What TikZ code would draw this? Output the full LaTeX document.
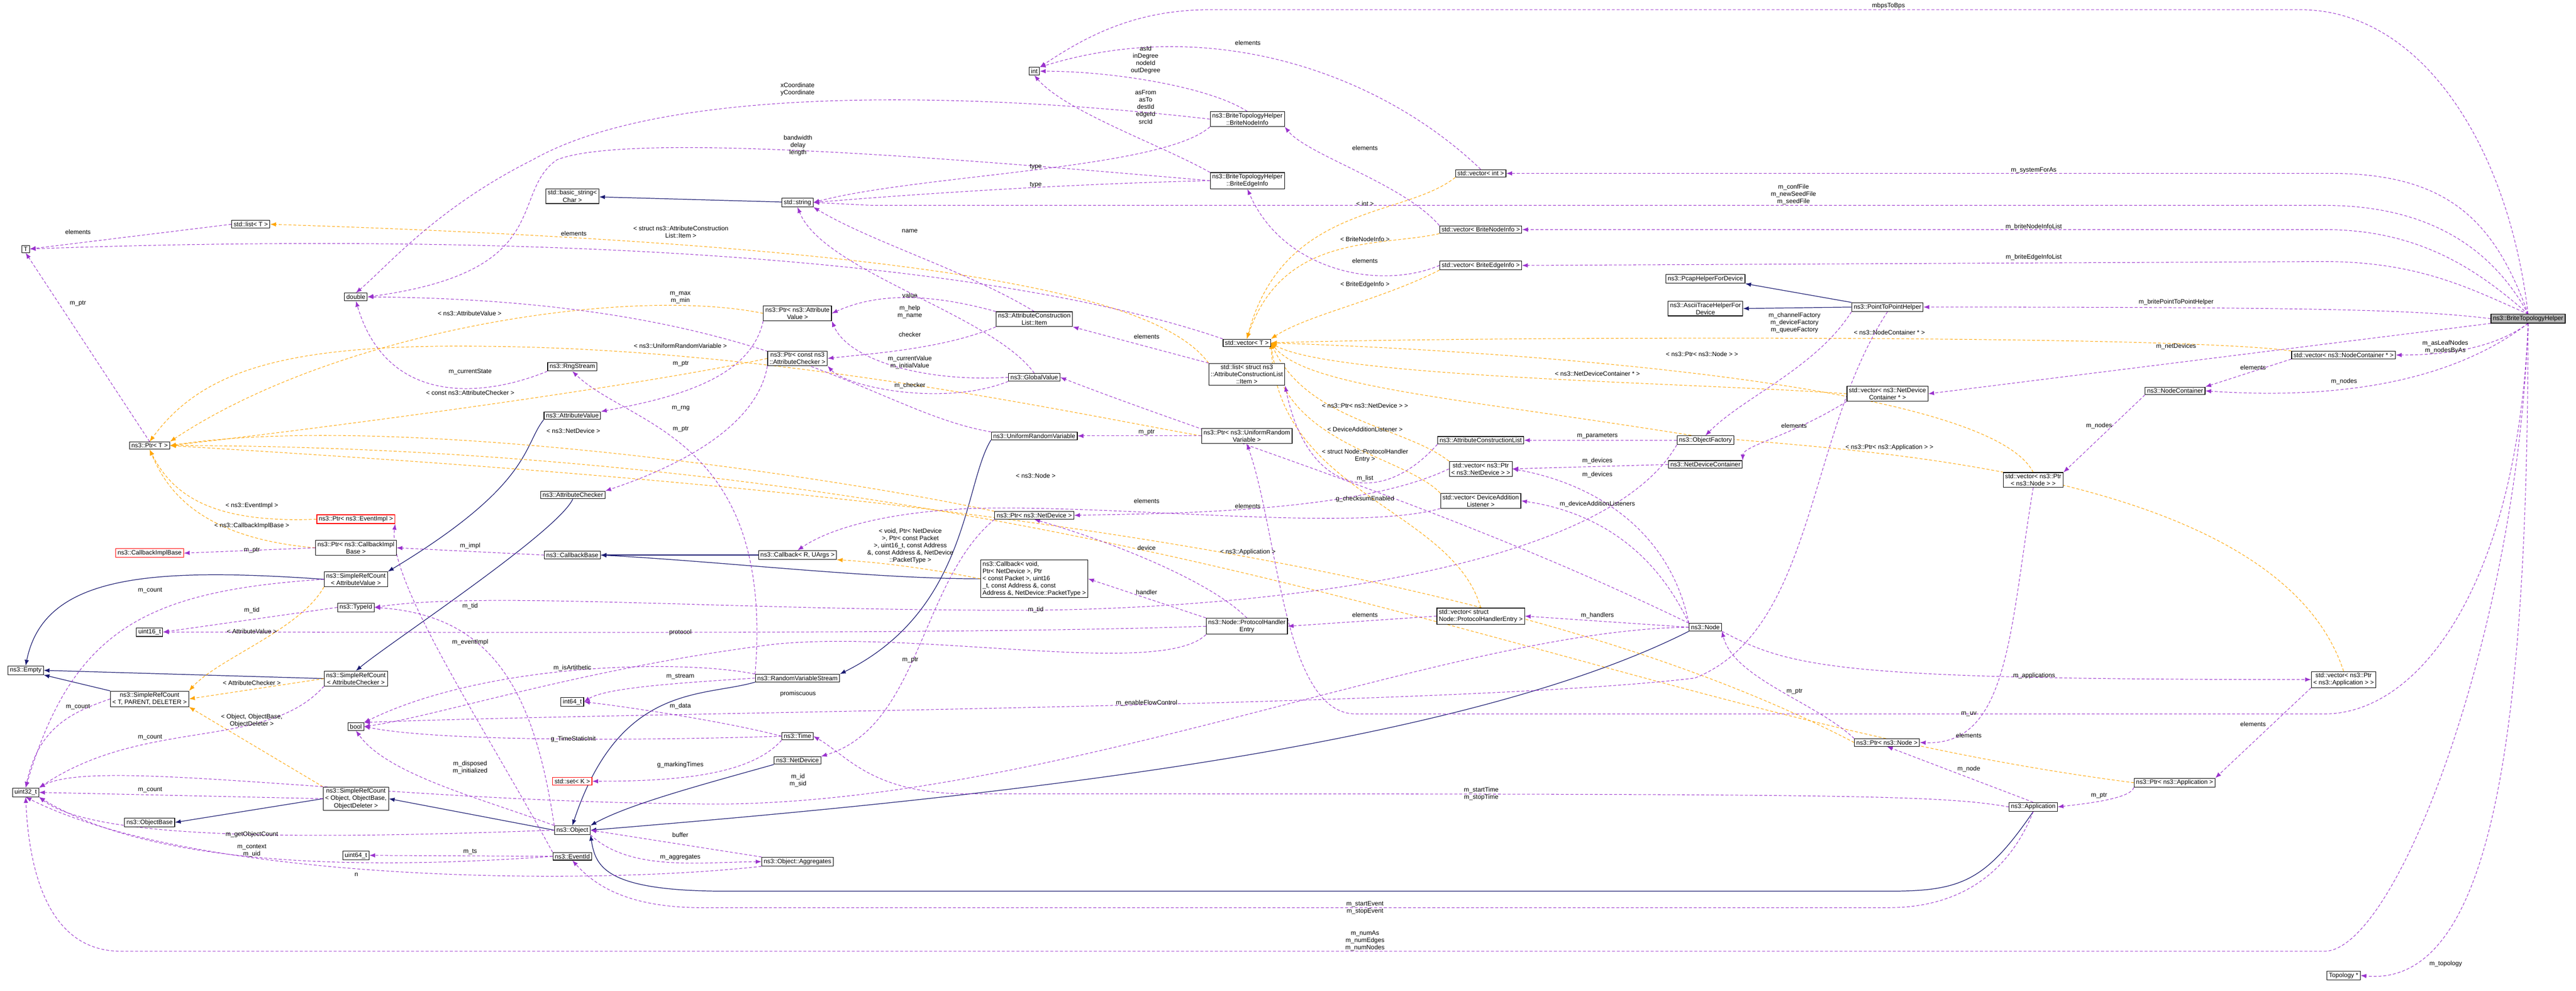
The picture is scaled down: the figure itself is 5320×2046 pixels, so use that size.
\documentclass[tikz,border=0pt]{standalone}
\usepackage{fontspec}
\setmainfont{Liberation Sans}
\usetikzlibrary{arrows.meta}
\pgfdeclarelayer{bg}
\pgfdeclarelayer{edges}
\pgfsetlayers{bg,edges,main}
\definecolor{usec}{HTML}{9A32CD}
\definecolor{tmplc}{HTML}{FFA500}
\definecolor{inhc}{HTML}{191970}
\tikzset{
 cls/.style={draw=black,line width=1.2pt,fill=white,inner xsep=4pt,inner ysep=3pt,align=center,font=\fontsize{13}{15}\selectfont},
 redcls/.style={cls,draw=red},
 graycls/.style={cls,fill=gray!60},
 lbl/.style={inner sep=1pt,align=center,font=\fontsize{13}{15}\selectfont},
 use/.style={draw=usec,line width=1.1pt,dash pattern=on 6pt off 4pt,-{Latex[length=12pt,width=9pt]}},
 tmpl/.style={draw=tmplc,line width=1.1pt,dash pattern=on 6pt off 4pt,-{Latex[length=12pt,width=9pt]}},
 inh/.style={draw=inhc,line width=1.3pt,-{Latex[length=12pt,width=9pt]}}
}
\begin{document}
\begin{tikzpicture}[x=1pt,y=-1pt]
\begin{pgfonlayer}{bg}
\fill[white] (0,0) rectangle (5320,2046);
\end{pgfonlayer}
\useasboundingbox (0,0) rectangle (5320,2046);
% ---------- nodes
\node[cls] (T) at (53,514) {T};
\node[cls] (listT) at (518,463) {std::list< T >};
\node[cls] (dbl) at (735,613) {double};
\node[cls] (bstr) at (1182,405) {std::basic\_string<\\Char >};
\node[cls] (str) at (1647,418) {std::string};
\node[cls] (ptrT) at (309,920) {ns3::Ptr< T >};
\node[cls] (ptrAV) at (1647,647) {ns3::Ptr< ns3::Attribute\\Value >};
\node[cls] (ptrAC) at (1647,740) {ns3::Ptr< const ns3\\::AttributeChecker >};
\node[cls] (rng) at (1182,757) {ns3::RngStream};
\node[cls] (av) at (1182,858) {ns3::AttributeValue};
\node[cls] (ac) at (1183,1022) {ns3::AttributeChecker};
\node[redcls] (ptrEI) at (735,1072) {ns3::Ptr< ns3::EventImpl >};
\node[cls] (ptrCIB) at (735,1131) {ns3::Ptr< ns3::CallbackImpl\\Base >};
\node[redcls] (cib) at (309,1142) {ns3::CallbackImplBase};
\node[cls] (cbb) at (1182,1146) {ns3::CallbackBase};
\node[cls] (cbR) at (1647,1146) {ns3::Callback< R, UArgs >};
\node[cls] (srcAV) at (735,1196) {ns3::SimpleRefCount\\< AttributeValue >};
\node[cls] (tid) at (735,1254) {ns3::TypeId};
\node[cls] (u16) at (309,1305) {uint16\_t};
\node[cls] (empty) at (53,1384) {ns3::Empty};
\node[cls] (srcAC) at (735,1401) {ns3::SimpleRefCount\\< AttributeChecker >};
\node[cls] (srcT) at (309,1443) {ns3::SimpleRefCount\\< T, PARENT, DELETER >};
\node[cls] (rvs) at (1647,1400) {ns3::RandomVariableStream};
\node[cls] (i64) at (1182,1449) {int64\_t};
\node[cls] (bool) at (735,1500) {bool};
\node[cls] (time) at (1647,1520) {ns3::Time};
\node[cls] (nd) at (1647,1570) {ns3::NetDevice};
\node[redcls] (setK) at (1182,1613) {std::set< K >};
\node[cls] (u32) at (53,1636) {uint32\_t};
\node[cls] (srcO) at (735,1649) {ns3::SimpleRefCount\\< Object, ObjectBase,\\ObjectDeleter >};
\node[cls] (objb) at (309,1698) {ns3::ObjectBase};
\node[cls] (obj) at (1182,1714) {ns3::Object};
\node[cls] (eid) at (1182,1768) {ns3::EventId};
\node[cls] (u64) at (735,1766) {uint64\_t};
\node[cls] (aggr) at (1647,1779) {ns3::Object::Aggregates};
\node[cls] (int) at (2136,147) {int};
\node[cls] (bni) at (2576,246) {ns3::BriteTopologyHelper\\::BriteNodeInfo};
\node[cls] (bei) at (2576,373) {ns3::BriteTopologyHelper\\::BriteEdgeInfo};
\node[cls] (vint) at (3058,358) {std::vector< int >};
\node[cls] (vbni) at (3058,474) {std::vector< BriteNodeInfo >};
\node[cls] (vbei) at (3058,548) {std::vector< BriteEdgeInfo >};
\node[cls] (pcap) at (3522,576) {ns3::PcapHelperForDevice};
\node[cls] (ascii) at (3522,637) {ns3::AsciiTraceHelperFor\\Device};
\node[cls] (item) at (2136,659) {ns3::AttributeConstruction\\List::Item};
\node[cls] (vecT) at (2575,708) {std::vector< T >};
\node[cls] (listItem) at (2575,773) {std::list< struct ns3\\::AttributeConstructionList\\::Item >};
\node[cls] (gv) at (2136,779) {ns3::GlobalValue};
\node[cls] (urv) at (2136,900) {ns3::UniformRandomVariable};
\node[cls] (ptrURV) at (2575,900) {ns3::Ptr< ns3::UniformRandom\\Variable >};
\node[cls] (acl) at (3058,909) {ns3::AttributeConstructionList};
\node[cls] (of) at (3522,909) {ns3::ObjectFactory};
\node[cls] (vpnd) at (3058,968) {std::vector< ns3::Ptr\\< ns3::NetDevice > >};
\node[cls] (ndc) at (3522,959) {ns3::NetDeviceContainer};
\node[cls] (ptrND) at (2136,1064) {ns3::Ptr< ns3::NetDevice >};
\node[cls] (vdal) at (3058,1034) {std::vector< DeviceAddition\\Listener >};
\node[cls,align=left] (cbV) at (2136,1195) {ns3::Callback< void,\\ Ptr< NetDevice >, Ptr\\< const Packet >, uint16\\\_t, const Address \&, const\\ Address \&, NetDevice::PacketType >};
\node[cls] (phe) at (2575,1293) {ns3::Node::ProtocolHandler\\Entry};
\node[cls,align=left] (vphe) at (3058,1272) {std::vector< struct\\ Node::ProtocolHandlerEntry >};
\node[cls] (node) at (3522,1295) {ns3::Node};
\node[cls] (p2p) at (3898,634) {ns3::PointToPointHelper};
\node[graycls] (bth) at (5221,658) {ns3::BriteTopologyHelper};
\node[cls] (vncp) at (4840,733) {std::vector< ns3::NodeContainer * >};
\node[cls] (nc) at (4492,807) {ns3::NodeContainer};
\node[cls] (vndc) at (3898,813) {std::vector< ns3::NetDevice\\Container * >};
\node[cls] (vpn) at (4199,991) {std::vector< ns3::Ptr\\< ns3::Node > >};
\node[cls] (vpa) at (4840,1403) {std::vector< ns3::Ptr\\< ns3::Application > >};
\node[cls] (ptrN) at (3897,1533) {ns3::Ptr< ns3::Node >};
\node[cls] (ptrA) at (4491,1616) {ns3::Ptr< ns3::Application >};
\node[cls] (app) at (4199,1666) {ns3::Application};
\node[cls] (topo) at (4840,2014) {Topology *};
\begin{pgfonlayer}{edges}
% ---------- inheritance
\draw[inh] (str) -- (bstr);
\draw[inh] (srcAV.west) .. controls (300,1170) and (90,1190) .. (empty.north);
\draw[inh] (srcAC.west) -- (empty.east);
\draw[inh] (srcT.north west) -- (empty.south east);
\draw[inh] (av.south west) .. controls (1080,920) and (1100,1000) .. (srcAV.north east);
\draw[inh] (ac.south) .. controls (1150,1100) and (800,1330) .. (srcAC.north);
\draw[inh] (cbR.west) -- (cbb.east);
\draw[inh] (cbV.west) .. controls (1800,1195) and (1500,1160) .. (cbb.east);
\draw[inh] (srcO.west) -- (objb.east);
\draw[inh] (obj.west) -- (srcO.east);
\draw[inh] (rvs.south west) .. controls (1450,1440) and (1280,1410) .. (obj.north);
\draw[inh] (urv.south west) .. controls (1990,1000) and (2000,1260) .. (rvs.north east);
\draw[inh] (nd.south west) .. controls (1450,1620) and (1300,1660) .. (obj.north east);
\draw[inh] (node.south west) .. controls (3000,1550) and (2000,1650) .. (obj.east);
\draw[inh] (app.south) .. controls (4100,1820) and (4050,1840) .. (3900,1840) -- (1500,1840) .. controls (1250,1840) and (1230,1790) .. (obj.south east);
\draw[inh] (p2p.north west) -- (pcap.south east);
\draw[inh] (p2p.west) -- (ascii.east);
% ---------- template instances
\draw[tmpl] (listItem.north west) .. controls (2400,620) and (2000,510) .. (listT.east);
\draw[tmpl] (ptrAV.west) .. controls (1300,590) and (700,680) .. (ptrT.north east);
\draw[tmpl] (ptrURV.west) .. controls (2200,850) and (1600,720) .. (1000,715) .. controls (600,710) and (420,760) .. (ptrT.north);
\draw[tmpl] (ptrAC.west) .. controls (1300,800) and (700,880) .. (ptrT.east);
\draw[tmpl] (ptrND.north west) .. controls (1700,980) and (800,850) .. (ptrT.east);
\draw[tmpl] (ptrN.west) .. controls (3000,1100) and (1500,990) .. (ptrT.east);
\draw[tmpl] (ptrEI.west) .. controls (450,1080) and (360,1030) .. (ptrT.south);
\draw[tmpl] (ptrCIB.west) .. controls (400,1110) and (340,1000) .. (ptrT.south);
\draw[tmpl] (ptrA.west) .. controls (3500,1500) and (2800,1150) .. (1500,990) .. controls (1000,930) and (600,920) .. (ptrT.east);
\draw[tmpl] (srcAV.south west) .. controls (620,1300) and (450,1360) .. (srcT.north east);
\draw[tmpl] (srcAC.west) -- (srcT.east);
\draw[tmpl] (srcO.north west) -- (srcT.south east);
\draw[tmpl] (cbV.west) .. controls (1900,1170) and (1800,1160) .. (cbR.south east);
\draw[tmpl] (vint.south west) .. controls (2900,450) and (2650,420) .. (vecT.north);
\draw[tmpl] (vbni.south west) .. controls (2850,510) and (2650,480) .. (vecT.north);
\draw[tmpl] (vbei.south west) .. controls (2850,620) and (2700,650) .. (vecT.north east);
\draw[tmpl] (vpn.north) .. controls (4100,780) and (3000,720) .. (vecT.east);
\draw[tmpl] (vndc.west) .. controls (3500,790) and (2750,780) .. (vecT.east);
\draw[tmpl] (vpnd.north west) .. controls (2900,880) and (2700,870) .. (vecT.east);
\draw[tmpl] (vdal.north west) .. controls (2900,940) and (2650,920) .. (vecT.east);
\draw[tmpl] (vphe.north) .. controls (3000,1050) and (2640,1020) .. (vecT.east);
\draw[tmpl] (vpa.north) .. controls (4700,960) and (3800,930) .. (3500,900) .. controls (3000,820) and (2700,800) .. (vecT.east);
\draw[tmpl] (vncp.north west) .. controls (4500,690) and (3000,695) .. (vecT.east);
% ---------- usage
\draw[use] (listT.west) -- (T.east);
\draw[use] (vecT.north west) .. controls (2000,520) and (1000,480) .. (T.east);
\draw[use] (ptrT.north) -- (T.south);
\draw[use] (bni.west) .. controls (2100,200) and (1400,160) .. (1100,330) .. controls (900,430) and (800,550) .. (dbl.north);
\draw[use] (bei.west) .. controls (2000,330) and (1300,270) .. (1150,330) .. controls (1050,400) and (1150,560) .. (dbl.east);
\draw[use] (bni.north) .. controls (2500,180) and (2300,147) .. (int.east);
\draw[use] (bei.north west) .. controls (2400,300) and (2200,230) .. (int.south);
\draw[use] (vint.north) .. controls (2850,150) and (2500,30) .. (int.north east);
\draw[use] (bni.south west) .. controls (2400,350) and (1900,360) .. (str.east);
\draw[use] (bei.west) .. controls (2200,380) and (1900,400) .. (str.east);
\draw[use] (vbni.north west) .. controls (2900,380) and (2700,320) .. (bni.south east);
\draw[use] (vbei.west) .. controls (2850,600) and (2650,560) .. (bei.south);
\draw[use] (bth.north) .. controls (5180,300) and (5000,20) .. (4750,20) -- (2500,20) .. controls (2350,20) and (2250,70) .. (int.north east);
\draw[use] (bth.north) .. controls (5150,450) and (5050,355) .. (4800,358) -- (vint.east);
\draw[use] (bth.north) .. controls (5140,500) and (5000,424) .. (4800,424) -- (1800,424) -- (str.east);
\draw[use] (bth.north) .. controls (5120,560) and (5000,474) .. (4800,474) -- (vbni.east);
\draw[use] (bth.north) .. controls (5110,600) and (5000,540) .. (4800,540) -- (vbei.east);
\draw[use] (bth.west) .. controls (5000,640) and (4800,634) .. (p2p.east);
\draw[use] (bth.south west) -- (vndc.east);
\draw[use] (bth.south) .. controls (5150,720) and (5050,733) .. (vncp.east);
\draw[use] (bth.south) .. controls (5100,760) and (4900,830) .. (nc.east);
\draw[use] (bth.south) .. controls (5200,1200) and (5000,1474) .. (4800,1474) -- (2800,1474) .. controls (2650,1474) and (2640,1100) .. (ptrURV.south);
\draw[use] (bth.south) .. controls (5200,1300) and (4950,1964) .. (4800,1964) -- (250,1964) .. controls (100,1964) and (60,1800) .. (u32.south);
\draw[use] (bth.south) .. controls (5220,1500) and (5150,2040) .. (topo.east);
\draw[use] (vncp.south west) -- (nc.north east);
\draw[use] (nc.south west) -- (vpn.north east);
\draw[use] (vpn.south) .. controls (4150,1300) and (4150,1540) .. (ptrN.east);
\draw[use] (ptrN.north west) .. controls (3750,1450) and (3580,1400) .. (node.south east);
\draw[use] (app.north) -- (ptrN.south);
\draw[use] (ptrA.south west) .. controls (4400,1650) and (4300,1660) .. (app.east);
\draw[use] (vpa.south west) -- (ptrA.north east);
\draw[use] (node.south east) .. controls (3700,1380) and (3800,1403) .. (vpa.west);
\draw[use] (app.west) .. controls (4000,1640) and (3800,1639) .. (2000,1639) .. controls (1800,1639) and (1750,1560) .. (time.east);
\draw[use] (app.south) .. controls (4150,1800) and (4050,1874) .. (3900,1874) -- (1450,1874) .. controls (1300,1874) and (1230,1830) .. (eid.south);
\draw[use] (p2p.south west) .. controls (3750,760) and (3600,820) .. (of.north);
\draw[use] (p2p.south) .. controls (3730,900) and (3750,1300) .. (3500,1400) .. controls (3000,1460) and (1300,1470) .. (bool.north east);
\draw[use] (vndc.south west) .. controls (3700,900) and (3600,920) .. (ndc.north east);
\draw[use] (ndc.west) -- (vpnd.east);
\draw[use] (node.north west) .. controls (3450,1100) and (3300,1000) .. (vpnd.east);
\draw[use] (vpnd.west) .. controls (2800,1060) and (2400,1060) .. (ptrND.east);
\draw[use] (ptrND.south west) .. controls (1900,1200) and (1900,1500) .. (nd.north east);
\draw[use] (of.west) -- (acl.east);
\draw[use] (of.south west) .. controls (3300,1200) and (2500,1260) .. (2100,1260) .. controls (1500,1260) and (1000,1220) .. (tid.east);
\draw[use] (acl.south west) .. controls (2850,1050) and (2700,1020) .. (listItem.south east);
\draw[use] (listItem.north west) -- (item.south east);
\draw[use] (item.north) .. controls (2000,560) and (1800,500) .. (str.south east);
\draw[use] (item.north west) .. controls (1900,600) and (1800,610) .. (ptrAV.east);
\draw[use] (item.south west) .. controls (1950,720) and (1800,730) .. (ptrAC.east);
\draw[use] (gv.north) .. controls (2050,650) and (1700,560) .. (str.south);
\draw[use] (gv.west) .. controls (1900,790) and (1750,740) .. (ptrAV.south east);
\draw[use] (gv.south west) .. controls (1950,840) and (1750,800) .. (ptrAC.south east);
\draw[use] (node.north west) .. controls (3000,1050) and (2500,900) .. (gv.east);
\draw[use] (node.north west) .. controls (3400,1100) and (3250,1050) .. (vdal.east);
\draw[use] (node.west) -- (vphe.east);
\draw[use] (vphe.west) -- (phe.east);
\draw[use] (phe.north west) -- (cbV.east);
\draw[use] (phe.north) .. controls (2500,1200) and (2300,1120) .. (ptrND.south);
\draw[use] (phe.west) .. controls (2000,1310) and (1000,1305) .. (u16.east);
\draw[use] (phe.south west) .. controls (2400,1400) and (1900,1300) .. (1600,1330) .. controls (1200,1380) and (900,1480) .. (bool.east);
\draw[use] (vdal.south west) .. controls (2800,1100) and (2300,1040) .. (2000,1050) .. controls (1800,1060) and (1700,1100) .. (cbR.north);
\draw[use] (node.west) .. controls (3000,1300) and (2200,1650) .. (1500,1660) .. controls (800,1660) and (200,1560) .. (u32.north east);
\draw[use] (ptrAV.south west) .. controls (1550,780) and (1400,820) .. (av.north east);
\draw[use] (ptrAC.south west) .. controls (1560,900) and (1350,980) .. (ac.north east);
\draw[use] (urv.north west) .. controls (1800,850) and (1600,620) .. (dbl.east);
\draw[use] (ptrURV.west) -- (urv.east);
\draw[use] (rvs.north west) .. controls (1600,900) and (1300,880) .. (rng.south);
\draw[use] (rng.south west) .. controls (1000,820) and (800,840) .. (dbl.south);
\draw[use] (rvs.north west) .. controls (1400,1360) and (1000,1370) .. (bool.north east);
\draw[use] (rvs.west) .. controls (1400,1410) and (1250,1420) .. (i64.east);
\draw[use] (time.west) .. controls (1500,1490) and (1300,1460) .. (i64.east);
\draw[use] (time.west) .. controls (1300,1530) and (900,1530) .. (bool.east);
\draw[use] (time.south west) .. controls (1550,1600) and (1400,1613) .. (setK.east);
\draw[use] (ptrCIB.west) -- (cib.east);
\draw[use] (cbb.west) -- (ptrCIB.east);
\draw[use] (eid.north west) .. controls (1000,1500) and (800,1200) .. (ptrEI.south east);
\draw[use] (eid.west) -- (u64.east);
\draw[use] (eid.west) .. controls (700,1800) and (300,1780) .. (u32.south east);
\draw[use] (obj.north west) .. controls (1100,1400) and (1000,1270) .. (tid.east);
\draw[use] (obj.north west) .. controls (1000,1650) and (800,1600) .. (bool.south);
\draw[use] (obj.west) .. controls (700,1730) and (200,1740) .. (u32.south east);
\draw[use] (obj.south east) .. controls (1300,1800) and (1450,1780) .. (aggr.west);
\draw[use] (aggr.north west) -- (obj.east);
\draw[use] (aggr.south west) .. controls (1200,1830) and (400,1820) .. (u32.south);
\draw[use] (tid.west) -- (u16.east);
\draw[use] (srcAV.west) .. controls (300,1220) and (150,1300) .. (u32.north);
\draw[use] (srcT.west) .. controls (150,1470) and (80,1500) .. (u32.north);
\draw[use] (srcAC.south west) .. controls (550,1550) and (300,1480) .. (u32.north east);
\draw[use] (srcO.west) -- (u32.east);
\end{pgfonlayer}
% ---------- labels
\node[lbl] (l1) at (161,479) {elements};
\node[lbl] (l2) at (1185,482) {elements};
\node[lbl] (l3) at (1406,479) {< struct ns3::AttributeConstruction\\List::Item >};
\node[lbl] (l4) at (161,627) {m\_ptr};
\node[lbl] (l5) at (1647,184) {xCoordinate\\yCoordinate};
\node[lbl] (l6) at (1648,300) {bandwidth\\delay\\length};
\node[lbl] (l7) at (1405,614) {m\_max\\m\_min};
\node[lbl] (l8) at (970,647) {< ns3::AttributeValue >};
\node[lbl] (l9) at (1405,714) {< ns3::UniformRandomVariable >};
\node[lbl] (l10) at (1406,751) {m\_ptr};
\node[lbl] (l11) at (971,768) {m\_currentState};
\node[lbl] (l12) at (971,811) {< const ns3::AttributeChecker >};
\node[lbl] (l13) at (1406,843) {m\_rng};
\node[lbl] (l14) at (1184,890) {< ns3::NetDevice >};
\node[lbl] (l15) at (1406,886) {m\_ptr};
\node[lbl] (l16) at (520,1044) {< ns3::EventImpl >};
\node[lbl] (l17) at (520,1086) {< ns3::CallbackImplBase >};
\node[lbl] (l18) at (520,1136) {m\_ptr};
\node[lbl] (l19) at (971,1127) {m\_impl};
\node[lbl] (l20) at (310,1219) {m\_count};
\node[lbl] (l21) at (520,1260) {m\_tid};
\node[lbl] (l22) at (971,1252) {m\_tid};
\node[lbl] (l23) at (520,1303) {< AttributeValue >};
\node[lbl] (l24) at (1405,1306) {protocol};
\node[lbl] (l25) at (971,1326) {m\_eventImpl};
\node[lbl] (l26) at (520,1410) {< AttributeChecker >};
\node[lbl] (l27) at (1182,1379) {m\_isArtithetic};
\node[lbl] (l28) at (1405,1397) {m\_stream};
\node[lbl] (l29) at (1648,1433) {promiscuous};
\node[lbl] (l30) at (1405,1458) {m\_data};
\node[lbl] (l31) at (161,1460) {m\_count};
\node[lbl] (l32) at (520,1488) {< Object, ObjectBase,\\ObjectDeleter >};
\node[lbl] (l33) at (310,1522) {m\_count};
\node[lbl] (l34) at (1184,1526) {g\_TimeStaticInit};
\node[lbl] (l35) at (971,1585) {m\_disposed\\m\_initialized};
\node[lbl] (l36) at (1405,1579) {g\_markingTimes};
\node[lbl] (l37) at (1648,1611) {m\_id\\m\_sid};
\node[lbl] (l38) at (310,1631) {m\_count};
\node[lbl] (l39) at (1405,1724) {buffer};
\node[lbl] (l40) at (520,1723) {m\_getObjectCount};
\node[lbl] (l41) at (520,1756) {m\_context\\m\_uid};
\node[lbl] (l42) at (971,1758) {m\_ts};
\node[lbl] (l43) at (1405,1770) {m\_aggregates};
\node[lbl] (l44) at (736,1806) {n};
\node[lbl] (l45) at (2577,88) {elements};
\node[lbl] (l46) at (2366,124) {asId\\inDegree\\nodeId\\outDegree};
\node[lbl] (l47) at (2366,221) {asFrom\\asTo\\destId\\edgeId\\srcId};
\node[lbl] (l48) at (2139,345) {type};
\node[lbl] (l49) at (2139,382) {type};
\node[lbl] (l50) at (2819,306) {elements};
\node[lbl] (l51) at (2819,420) {< int >};
\node[lbl] (l52) at (2819,494) {< BriteNodeInfo >};
\node[lbl] (l53) at (2819,539) {elements};
\node[lbl] (l54) at (2819,588) {< BriteEdgeInfo >};
\node[lbl] (l55) at (1879,477) {name};
\node[lbl] (l56) at (1879,610) {value};
\node[lbl] (l57) at (1879,644) {m\_help\\m\_name};
\node[lbl] (l58) at (1879,691) {checker};
\node[lbl] (l59) at (1879,748) {m\_currentValue\\m\_initialValue};
\node[lbl] (l60) at (1879,796) {m\_checker};
\node[lbl] (l61) at (2368,695) {elements};
\node[lbl] (l62) at (3515,731) {< ns3::Ptr< ns3::Node > >};
\node[lbl] (l63) at (3299,771) {< ns3::NetDeviceContainer * >};
\node[lbl] (l64) at (2819,838) {< ns3::Ptr< ns3::NetDevice > >};
\node[lbl] (l65) at (2819,886) {< DeviceAdditionListener >};
\node[lbl] (l66) at (2819,941) {< struct Node::ProtocolHandler\\Entry >};
\node[lbl] (l67) at (2819,988) {m\_list};
\node[lbl] (l68) at (2368,892) {m\_ptr};
\node[lbl] (l69) at (3299,900) {m\_parameters};
\node[lbl] (l70) at (3299,952) {m\_devices};
\node[lbl] (l71) at (3299,980) {m\_devices};
\node[lbl] (l72) at (2139,982) {< ns3::Node >};
\node[lbl] (l73) at (2819,1030) {g\_checksumEnabled};
\node[lbl] (l74) at (3299,1041) {m\_deviceAdditionListeners};
\node[lbl] (l75) at (2368,1034) {elements};
\node[lbl] (l76) at (2577,1045) {elements};
\node[lbl,align=center] (l77) at (1880,1127) {< void, Ptr< NetDevice\\>, Ptr< const Packet\\>, uint16\_t, const Address\\\&, const Address \&, NetDevice\\::PacketType >};
\node[lbl] (l78) at (2368,1131) {device};
\node[lbl] (l79) at (2577,1140) {< ns3::Application >};
\node[lbl] (l80) at (2368,1223) {handler};
\node[lbl] (l81) at (2139,1259) {m\_tid};
\node[lbl] (l82) at (2819,1270) {elements};
\node[lbl] (l83) at (3299,1271) {m\_handlers};
\node[lbl] (l84) at (1880,1363) {m\_ptr};
\node[lbl] (l85) at (2368,1452) {m\_enableFlowControl};
\node[lbl] (l86) at (3059,1639) {m\_startTime\\m\_stopTime};
\node[lbl] (l87) at (2819,1874) {m\_startEvent\\m\_stopEvent};
\node[lbl] (l88) at (2819,1942) {m\_numAs\\m\_numEdges\\m\_numNodes};
\node[lbl] (l89) at (3900,12) {mbpsToBps};
\node[lbl] (l90) at (4200,352) {m\_systemForAs};
\node[lbl] (l91) at (3704,401) {m\_confFile\\m\_newSeedFile\\m\_seedFile};
\node[lbl] (l92) at (4200,468) {m\_briteNodeInfoList};
\node[lbl] (l93) at (4200,531) {m\_briteEdgeInfoList};
\node[lbl] (l94) at (4494,624) {m\_britePointToPointHelper};
\node[lbl] (l95) at (3706,666) {m\_channelFactory\\m\_deviceFactory\\m\_queueFactory};
\node[lbl] (l96) at (3902,686) {< ns3::NodeContainer * >};
\node[lbl] (l97) at (4494,715) {m\_netDevices};
\node[lbl] (l98) at (5050,716) {m\_asLeafNodes\\m\_nodesByAs};
\node[lbl] (l99) at (4653,759) {elements};
\node[lbl] (l100) at (4841,788) {m\_nodes};
\node[lbl] (l101) at (3705,879) {elements};
\node[lbl] (l102) at (4335,879) {m\_nodes};
\node[lbl] (l103) at (3902,924) {< ns3::Ptr< ns3::Application > >};
\node[lbl] (l104) at (4201,1395) {m\_applications};
\node[lbl] (l105) at (3706,1428) {m\_ptr};
\node[lbl] (l106) at (4066,1474) {m\_uv};
\node[lbl] (l107) at (4066,1518) {elements};
\node[lbl] (l108) at (4653,1495) {elements};
\node[lbl] (l109) at (4066,1588) {m\_node};
\node[lbl] (l110) at (4335,1643) {m\_ptr};
\node[lbl] (l111) at (5051,1990) {m\_topology};
\end{tikzpicture}
\end{document}
